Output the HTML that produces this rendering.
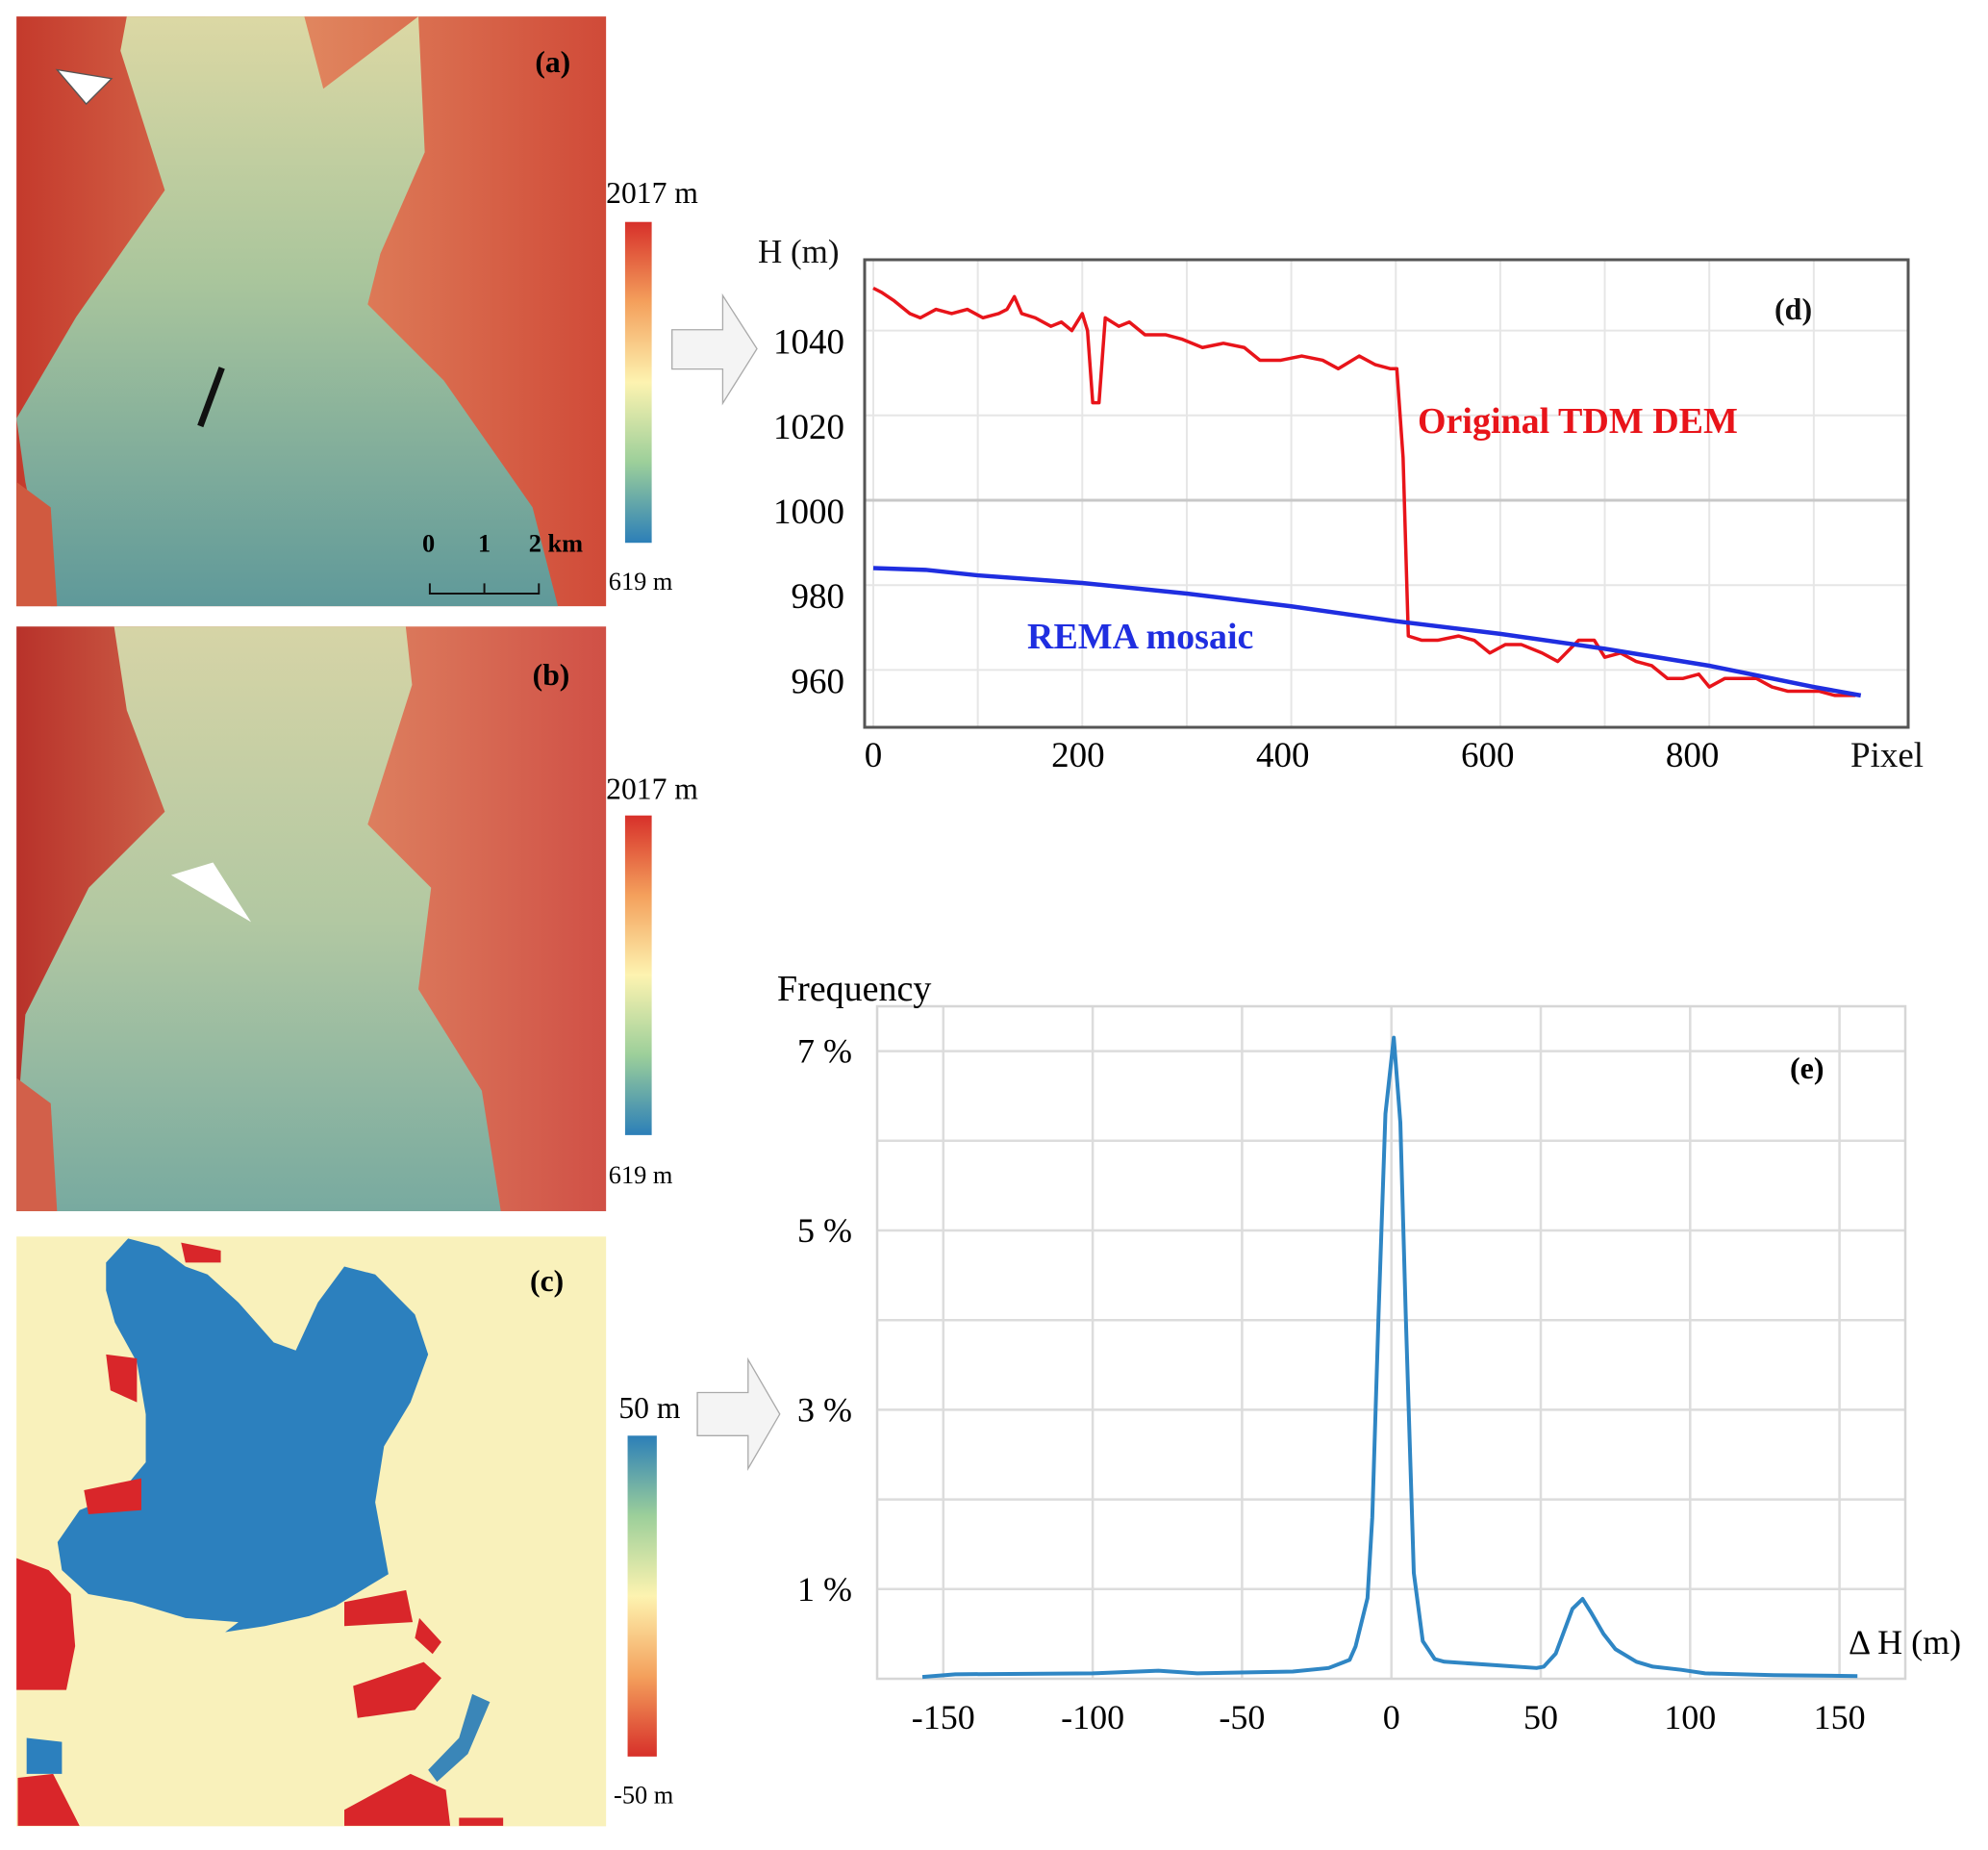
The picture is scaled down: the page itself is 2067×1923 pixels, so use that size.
<!DOCTYPE html>
<html><head><meta charset="utf-8"><style>
body{margin:0;background:#fff;}
svg{display:block;font-family:"Liberation Serif",serif;}
</style></head><body>
<svg id="root" width="2067" height="1923" viewBox="0 0 2067 1923" xmlns="http://www.w3.org/2000/svg">
<defs>
<linearGradient id="gla" x1="0" y1="0" x2="0" y2="1"><stop offset="0" stop-color="#dcd8a4"/><stop offset="0.45" stop-color="#a9c59c"/><stop offset="1" stop-color="#5f999a"/></linearGradient>
<linearGradient id="glb" x1="0" y1="0" x2="0" y2="1"><stop offset="0" stop-color="#d6d4a6"/><stop offset="0.5" stop-color="#b2c8a2"/><stop offset="1" stop-color="#78aaa0"/></linearGradient>
<linearGradient id="reda" x1="0" y1="0" x2="1" y2="0"><stop offset="0" stop-color="#c43a2c"/><stop offset="0.5" stop-color="#e0855e"/><stop offset="1" stop-color="#d04a38"/></linearGradient>
<linearGradient id="redb" x1="0" y1="0" x2="1" y2="0"><stop offset="0" stop-color="#b8322a"/><stop offset="0.5" stop-color="#e08a64"/><stop offset="1" stop-color="#d05046"/></linearGradient>
<linearGradient id="cbH" x1="0" y1="0" x2="0" y2="1"><stop offset="0" stop-color="#d7302a"/><stop offset="0.25" stop-color="#f4a05c"/><stop offset="0.5" stop-color="#fdf3b0"/><stop offset="0.75" stop-color="#9ccf9a"/><stop offset="1" stop-color="#2c7fb8"/></linearGradient>
<linearGradient id="cbD" x1="0" y1="0" x2="0" y2="1"><stop offset="0" stop-color="#2c7fb8"/><stop offset="0.25" stop-color="#9ccf9a"/><stop offset="0.5" stop-color="#fdf3b0"/><stop offset="0.75" stop-color="#f4a05c"/><stop offset="1" stop-color="#d7302a"/></linearGradient>
</defs>

<g transform="scale(1.3183)">
 <g>
  <rect x="13" y="13" width="465" height="465" fill="url(#reda)"/>
  <polygon points="100,13 240,13 255,70 330,13 335,120 300,200 290,240 350,300 420,400 440,478 40,478 20,380 13,330 60,250 130,150 95,40" fill="url(#gla)"/>
  <polygon points="13,380 40,400 45,478 13,478" fill="#d05a40"/>
  <line x1="175" y1="290" x2="158" y2="336" stroke="#111" stroke-width="5"/>
  <polygon points="45,55 88,62 68,82" fill="#fff" stroke="#555" stroke-width="1"/>
  <text x="422" y="57" font-size="24" font-weight="bold">(a)</text>
  <text x="333" y="435" font-size="20" font-weight="bold">0</text>
  <text x="377" y="435" font-size="20" font-weight="bold">1</text>
  <text x="417" y="435" font-size="20" font-weight="bold">2 km</text>
  <path d="M339,460 V468 H425 V460 M382,460 V468" stroke="#111" stroke-width="1.5" fill="none"/>
  <rect x="493" y="175" width="21" height="253" fill="url(#cbH)"/>
  <text x="478" y="160" font-size="24">2017 m</text>
  <text x="480" y="465" font-size="20">619 m</text>
 </g>
 <g>
  <rect x="13" y="494" width="465" height="461" fill="url(#redb)"/>
  <polygon points="90,494 320,494 325,540 290,650 340,700 330,780 380,860 395,955 13,955 13,890 20,800 70,700 130,640 100,560" fill="url(#glb)"/>
  <polygon points="13,850 40,870 45,955 13,955" fill="#d2604a"/>
  <polygon points="135,690 168,680 198,727" fill="#fff"/>
  <text x="420" y="540" font-size="24" font-weight="bold">(b)</text>
  <rect x="493" y="643" width="21" height="252" fill="url(#cbH)"/>
  <text x="478" y="630" font-size="24">2017 m</text>
  <text x="480" y="933" font-size="20">619 m</text>
 </g>
 <g>
  <rect x="13" y="975" width="465" height="465" fill="#f9f1bb"/>
  <g transform="translate(13,975) scale(0.348,0.315) translate(-37,-35)">
   <polygon points="240,100 290,40 360,60 420,110 470,130 540,200 620,300 670,320 720,200 780,110 850,130 940,230 970,330 930,450 870,560 850,700 880,880 760,960 700,985 600,1010 510,1025 540,1000 420,990 300,950 200,930 140,870 130,800 180,720 270,680 330,600 330,480 310,350 260,250 240,170" fill="#2c80be"/>
   <polygon points="37,840 110,870 160,930 170,1060 150,1170 37,1170" fill="#d9262a"/>
   <polygon points="40,1390 120,1380 180,1510 40,1510" fill="#d9262a"/>
   <polygon points="780,950 920,920 935,1000 780,1010" fill="#d9262a"/>
   <polygon points="800,1160 960,1100 1000,1140 940,1220 810,1240" fill="#d9262a"/>
   <polygon points="780,1470 930,1380 1010,1420 1020,1510 780,1510" fill="#d9262a"/>
   <polygon points="1040,1490 1140,1490 1140,1510 1040,1510" fill="#d9262a"/>
   <polygon points="410,50 500,70 500,100 420,100" fill="#d9262a"/>
   <polygon points="240,330 310,340 310,450 250,420" fill="#d9262a"/>
   <polygon points="190,670 320,640 320,720 200,730" fill="#d9262a"/>
   <polygon points="60,1290 140,1300 140,1380 60,1380" fill="#2c80be"/>
   <polygon points="950,990 1000,1050 980,1080 940,1040" fill="#d9262a"/>
   <polygon points="1070,1180 1110,1200 1060,1330 990,1400 970,1370 1040,1290" fill="#3a86b8"/>
  </g>
  <text x="418" y="1018" font-size="24" font-weight="bold">(c)</text>
  <rect x="495" y="1132" width="23" height="253" fill="url(#cbD)"/>
  <text x="488" y="1118" font-size="24">50 m</text>
  <text x="484" y="1422" font-size="20">-50 m</text>
 </g>
 <polygon points="530,260 570,260 570,233 597,275 570,318 570,291 530,291" fill="#f4f4f4" stroke="#aaa" stroke-width="1"/>
 <polygon points="550,1098 590,1098 590,1072 615,1115 590,1158 590,1132 550,1132" fill="#f4f4f4" stroke="#aaa" stroke-width="1"/>
</g>

<g id="chartD"></g>
<g id="chartE"></g>
</svg>
<script>
const NS="http://www.w3.org/2000/svg";
// Chart d data
const dXTicks=[0,200,400,600,800];
const dYTicks=[960,980,1000,1020,1040];
const tdmPixel=[0,8,20,35,45,60,75,90,105,120,128,135,142,155,170,180,190,200,205,210,216,222,235,245,260,280,295,315,335,355,370,390,410,430,445,465,480,495,501,507,512,525,540,560,575,590,605,620,640,655,675,690,700,715,730,745,760,775,790,800,815,830,845,860,875,890,905,920,940];
const tdmH=[1050,1049,1047,1044,1043,1045,1044,1045,1043,1044,1045,1048,1044,1043,1041,1042,1040,1044,1040,1023,1023,1043,1041,1042,1039,1039,1038,1036,1037,1036,1033,1033,1034,1033,1031,1034,1032,1031,1031,1010,968,967,967,968,967,964,966,966,964,962,967,967,963,964,962,961,958,958,959,956,958,958,958,956,955,955,955,954,954];
const remaPixel=[0,50,100,200,300,400,500,600,700,800,900,945];
const remaH=[984,983.6,982.3,980.5,978,975,971.5,968.5,965,961,956,954];
// Chart e data
const eXTicks=[-150,-100,-50,0,50,100,150];
const eYTicks=[1,3,5,7];
const dhBins=[-157,-146,-100,-78,-65,-33,-21,-14,-12,-8,-6.4,-4.3,-2,0.8,3,4.8,7.5,10.5,14.5,17.7,48.6,51,55,60.6,64,67,71,75,82,87.5,97,105,128,156];
const freqPct=[0.02,0.05,0.06,0.09,0.06,0.08,0.12,0.21,0.36,0.9,1.8,4.06,6.3,7.15,6.2,4.06,1.18,0.42,0.22,0.19,0.12,0.135,0.28,0.78,0.89,0.73,0.5,0.33,0.19,0.135,0.1,0.06,0.04,0.03];

function mk(parent,tag,attrs,text){const e=document.createElementNS(NS,tag);for(const k in attrs)e.setAttribute(k,attrs[k]);if(text!==undefined)e.textContent=text;parent.appendChild(e);return e;}

// chart d
const gd=document.getElementById('chartD');
const dx=v=>908+v*1.0865, dy=v=>520-(v-1000)*4.41;
for(let v=0;v<=900;v+=100){const l=mk(gd,'line',{x1:dx(v),x2:dx(v),y1:270,y2:755,stroke:'#e6e6e6','stroke-width':2});

}
dYTicks.forEach(v=>{const l=mk(gd,'line',{x1:900,x2:1985,y1:dy(v),y2:dy(v),stroke:v===1000?'#c8c8c8':'#e6e6e6','stroke-width':v===1000?3:2});


const t=mk(gd,'text',{x:878,y:dy(v)+24,'font-size':37,'text-anchor':'end'},String(v));

});
dXTicks.forEach(v=>{const t=mk(gd,'text',{x:dx(v)-v*0.022,y:797,'font-size':37,'text-anchor':'middle'},String(v));

});
const box=mk(gd,'rect',{x:899,y:270,width:1085,height:486,fill:'none',stroke:'#555','stroke-width':3});


const rl=mk(gd,'polyline',{points:tdmPixel.map((p,i)=>dx(p)+','+dy(tdmH[i])).join(' '),fill:'none',stroke:'#e8141a','stroke-width':3.5,'stroke-linejoin':'round'});


const bl=mk(gd,'polyline',{points:remaPixel.map((p,i)=>dx(p)+','+dy(remaH[i])).join(' '),fill:'none',stroke:'#1f2ee0','stroke-width':4.5});


[['H (m)',788,273,35,'#111','normal','y-axis-title'],['Pixel',1924,797,37,'#111','normal','x-axis-title'],['(d)',1845,332,32,'#111','bold','panel-label-d'],['Original TDM DEM',1474,450,38,'#e8141a','bold','tdm-label'],['REMA mosaic',1068,674,38,'#1f2ee0','bold','rema-label']].forEach(a=>{
const t=mk(gd,'text',{x:a[1],y:a[2],'font-size':a[3],fill:a[4],'font-weight':a[5]},a[0]);

});

// chart e
const ge=document.getElementById('chartE');
const ex=v=>1446.7+v*3.106, ey=p=>1745-p*93.2;
for(let p=1;p<=7;p++){const l=mk(ge,'line',{x1:912,x2:1981,y1:ey(p),y2:ey(p),stroke:'#dcdcdc','stroke-width':2.5});

}
eXTicks.forEach(v=>{const l=mk(ge,'line',{x1:ex(v),x2:ex(v),y1:1046,y2:1745,stroke:'#dcdcdc','stroke-width':2.5});


const t=mk(ge,'text',{x:ex(v),y:1797,'font-size':36,'text-anchor':'middle'},String(v));

});
eYTicks.forEach(p=>{const t=mk(ge,'text',{x:886,y:ey(p)+12,'font-size':36,'text-anchor':'end'},p+' %');

});
const be=mk(ge,'rect',{x:912,y:1046,width:1069,height:699,fill:'none',stroke:'#d6d6d6','stroke-width':2.5});


const hl=mk(ge,'polyline',{points:dhBins.map((v,i)=>ex(v)+','+ey(freqPct[i])).join(' '),fill:'none',stroke:'#2f86c4','stroke-width':4,'stroke-linejoin':'round'});


[['Frequency',808,1040,38,'normal','y-axis-title'],['\u0394 H (m)',1922,1719,36,'normal','x-axis-title'],['(e)',1861,1121,32,'bold','panel-label-e']].forEach(a=>{
const t=mk(ge,'text',{x:a[1],y:a[2],'font-size':a[3],'font-weight':a[4]},a[0]);

});
</script>
</body></html>
